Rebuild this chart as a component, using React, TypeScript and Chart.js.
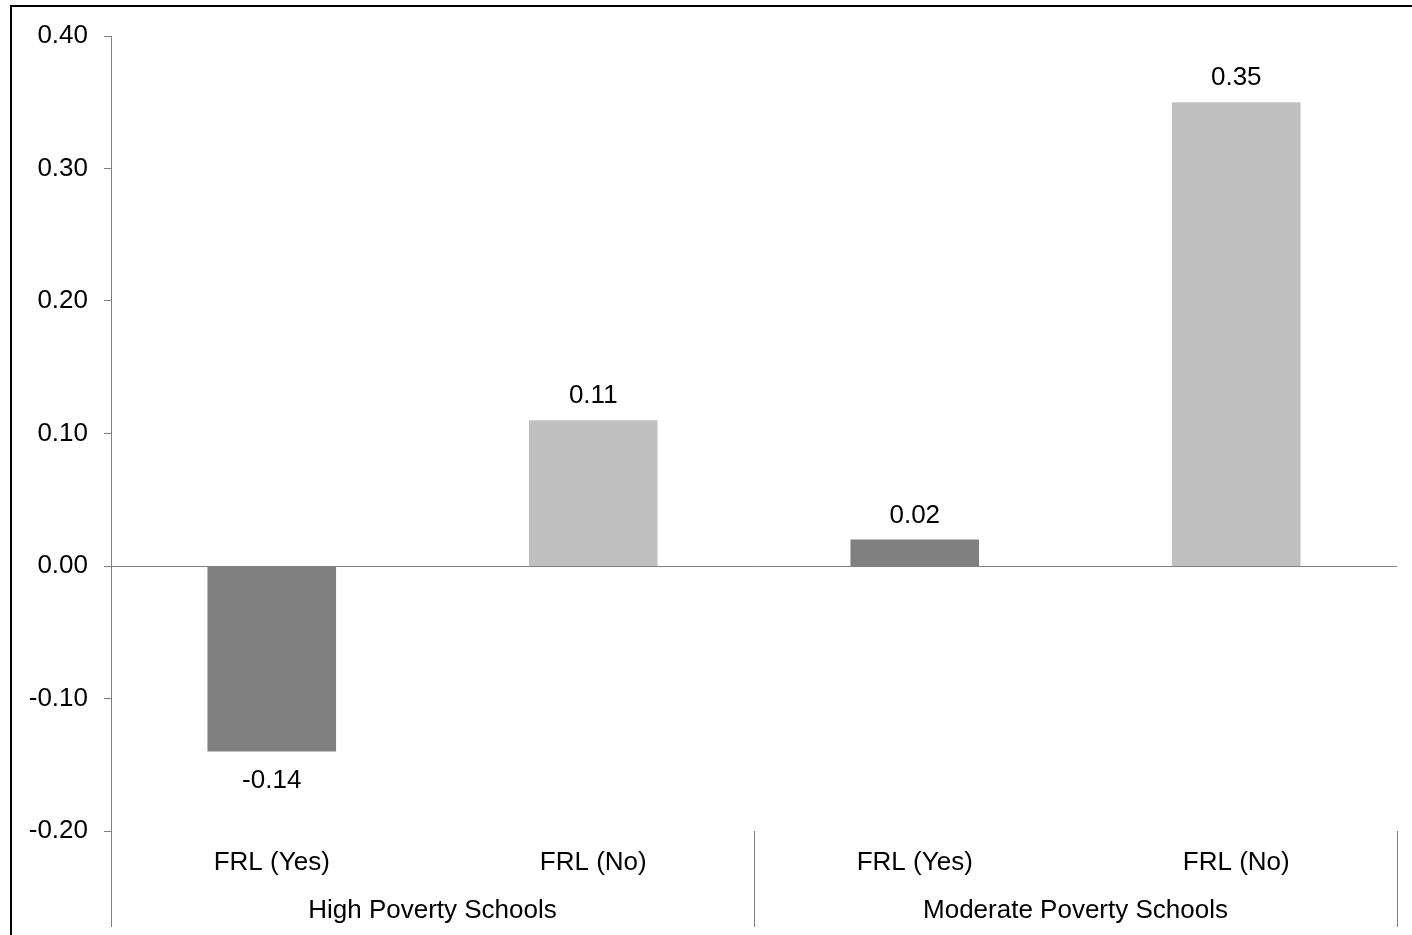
import React, { useEffect, useRef } from "react";
import { Chart, registerables } from "chart.js";

Chart.register(...registerables);

const categories = ["FRL (Yes)", "FRL (No)", "FRL (Yes)", "FRL (No)"];
const groups = ["High Poverty Schools", "Moderate Poverty Schools"];
const groupSizes = [2, 2];
const values = [-0.14, 0.11, 0.02, 0.35];
const barColors = ["#808080", "#C0C0C0", "#808080", "#C0C0C0"];
const yMin = -0.2;
const yMax = 0.4;
const yStep = 0.1;

const FONT = "'Liberation Sans', Arial, sans-serif";
const FONT_SIZE = 26;
const AXIS_GRAY = "#808080";

const overlayPlugin = {
  id: "overlay",
  afterDraw(chart: any) {
    const ctx = chart.ctx;
    const area = chart.chartArea;
    const x = chart.scales.x;
    ctx.save();
    // outer frame
    ctx.strokeStyle = "#000";
    ctx.lineWidth = 2;
    ctx.strokeRect(11, 6, chart.width + 10, chart.height + 10);

    // data labels
    ctx.fillStyle = "#000";
    ctx.font = `${FONT_SIZE}px ${FONT}`;
    ctx.textAlign = "center";
    ctx.textBaseline = "alphabetic";
    const meta = chart.getDatasetMeta(0);
    meta.data.forEach((bar: any, i: number) => {
      const v = values[i];
      const txt = v.toFixed(2);
      if (v >= 0) ctx.fillText(txt, bar.x, bar.y - 17);
      else ctx.fillText(txt, bar.x, bar.y + 36);
    });

    // group separators and labels
    const half = (x.getPixelForValue(1) - x.getPixelForValue(0)) / 2;
    const bottom = area.bottom + 96;
    ctx.strokeStyle = AXIS_GRAY;
    ctx.lineWidth = 1;
    let idx = 0;
    const bounds: number[] = [x.getPixelForValue(0) - half];
    groupSizes.forEach((n) => {
      idx += n;
      bounds.push(x.getPixelForValue(idx - 1) + half);
    });
    bounds.forEach((bx) => {
      const px = Math.round(bx) + 0.5;
      ctx.beginPath();
      ctx.moveTo(px, area.bottom);
      ctx.lineTo(px, bottom);
      ctx.stroke();
    });
    groups.forEach((g, gi) => {
      const cx = (bounds[gi] + bounds[gi + 1]) / 2;
      ctx.fillStyle = "#000";
      ctx.textBaseline = "middle";
      ctx.fillText(g, cx, area.bottom + 80);
    });
    ctx.restore();
  },
};

export default function App() {
  const ref = useRef<HTMLCanvasElement | null>(null);
  useEffect(() => {
    if (!ref.current) return;
    const chart = new Chart(ref.current, {
      type: "bar",
      data: {
        labels: categories,
        datasets: [
          {
            data: values,
            backgroundColor: barColors,
            borderWidth: 0,
            barPercentage: 0.4,
            categoryPercentage: 1,
          },
        ],
      },
      options: {
        animation: false,
        responsive: false,
        maintainAspectRatio: false,
        layout: { padding: { top: 36, right: 15, left: 0, bottom: 0 } },
        plugins: { legend: { display: false }, tooltip: { enabled: false } },
        scales: {
          x: {
            type: "category",
            offset: true,
            grid: { display: false, drawTicks: false },
            border: { display: false },
            ticks: {
              color: "#000",
              font: { family: FONT, size: FONT_SIZE },
              padding: 16,
              maxRotation: 0,
              autoSkip: false,
            },
            afterFit(scale: any) {
              scale.height = 104;
            },
          },
          y: {
            min: yMin,
            max: yMax,
            ticks: {
              stepSize: yStep,
              color: "#000",
              font: { family: FONT, size: FONT_SIZE },
              padding: 16,
              callback: (v: any) => Number(v).toFixed(2),
            },
            grid: {
              color: (c: any) =>
                c.tick && Math.abs(c.tick.value) < 1e-9 ? AXIS_GRAY : "rgba(0,0,0,0)",
              tickColor: AXIS_GRAY,
              tickLength: 7,
              lineWidth: 1,
            },
            border: { display: true, color: AXIS_GRAY, width: 1 },
            afterFit(scale: any) {
              scale.width = 111;
            },
          },
        },
      },
      plugins: [overlayPlugin],
    });
    return () => chart.destroy();
  }, []);
  return (
    <div style={{ position: "absolute", left: 0, top: 0, width: 1412, height: 935, background: "#fff" }}>
      <canvas ref={ref} width={1412} height={935} style={{ display: "block" }} />
    </div>
  );
}
